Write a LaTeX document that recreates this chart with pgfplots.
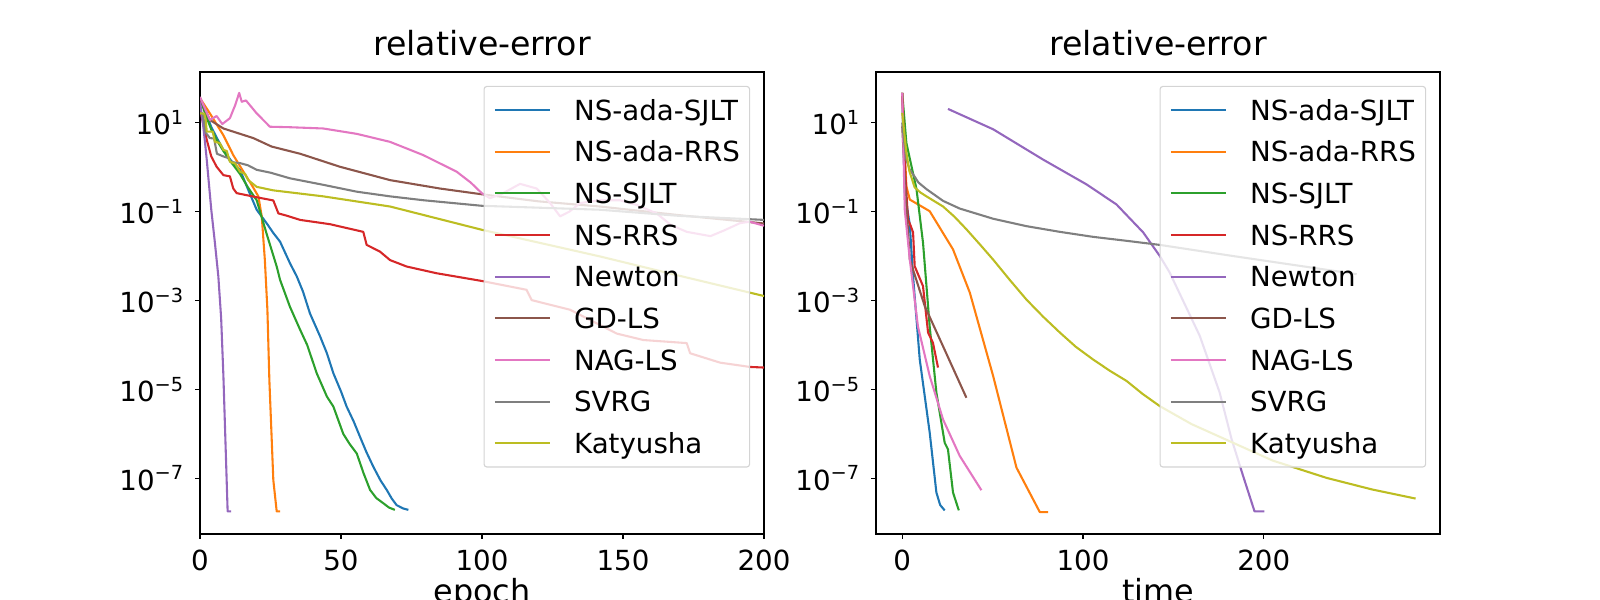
\documentclass[border=0pt]{standalone}
\usepackage{fontspec}
\setmainfont{DejaVu Sans}
\usepackage{pgfplots}
\pgfplotsset{compat=1.18}
\definecolor{C0}{HTML}{1F77B4}
\definecolor{C1}{HTML}{FF7F0E}
\definecolor{C2}{HTML}{2CA02C}
\definecolor{C3}{HTML}{D62728}
\definecolor{C4}{HTML}{9467BD}
\definecolor{C5}{HTML}{8C564B}
\definecolor{C6}{HTML}{E377C2}
\definecolor{C7}{HTML}{7F7F7F}
\definecolor{C8}{HTML}{BCBD22}
\pgfplotsset{
  legend image code/.code={\draw[#1, line width=1.5bp] (0bp,0bp)--(40bp,0bp);},
  every axis plot/.append style={line width=1.5bp, line join=round},
  every axis x label/.style={at={(axis description cs:0.5,0)}, anchor=base, yshift=-49bp, inner sep=0pt},
}
\begin{document}
\begin{tikzpicture}
\pgfplotsset{
  every axis/.append style={
  scale only axis, width=406.08bp, height=332.64bp, anchor=south west,
  ymin=5.585e-9, ymax=138,
  axis line style={line width=0.8bp},
  tick style={line width=0.8bp, black},
  tick align=outside, major tick length=3.5bp,
  xtick pos=bottom, ytick pos=left,
  ytick={1e1,1e-1,1e-3,1e-5,1e-7},
  yticklabels={10\textsuperscript{1},10\textsuperscript{−1},10\textsuperscript{−3},10\textsuperscript{−5},10\textsuperscript{−7}},
  yminorticks=false,
  ticklabel style={font=\fontsize{20}{24}\selectfont, inner sep=0pt},
  yticklabel style={anchor=east, xshift=-7.9bp},
  xticklabel style={anchor=north, yshift=-8bp},
  title style={at={(axis description cs:0.5,1)}, anchor=base, yshift=6.1bp, font=\fontsize{24}{28}\selectfont, inner sep=0pt},
  legend cell align=left,
  legend style={at={(1,1)}, anchor=north east, xshift=-10bp, yshift=-10bp,
    draw=black!17, line width=0.8bp, rounded corners=2bp, fill=white, fill opacity=0.8, text opacity=1,
    inner xsep=7bp, inner ysep=7bp, row sep=10bp, column sep=16.3bp,
    font=\fontsize{20}{24}\selectfont,
    nodes={inner sep=0pt, text height=17.3bp, text depth=2.7bp}},
  }
}
% ---------------- left panel: epoch ----------------
\begin{semilogyaxis}[at={(144bp,47.52bp)}, xmin=0, xmax=200,
  xtick={0,50,100,150,200}, xticklabels={0,50,100,150,200},
  title={relative-error}, xlabel={\fontsize{23}{27}\selectfont epoch}]
\addplot[C0, no markers] coordinates {(0,35.5) (2,17) (4,8) (6,4.5) (8.3,2.45) (11,1.4) (14.2,0.87) (17,0.32) (20.1,0.11) (23.6,0.055) (26,0.033) (28.4,0.021) (31.9,6.9e-3) (34.3,3.5e-3) (36.5,1.6e-3) (39,5.1e-4) (42.6,1.55e-4) (45,6.5e-5) (47.3,2.3e-5) (50,9e-6) (52,4.1e-6) (54.5,1.9e-6) (56.7,8.7e-7) (59,3.9e-7) (61.5,1.8e-7) (64,9e-8) (66.2,5.5e-8) (68,3.5e-8) (69.7,2.5e-8) (72,2.1e-8) (73.9,1.95e-8)};
\addlegendentry{NS-ada-SJLT}
\addplot[C1, no markers] coordinates {(0,35.5) (3.5,16.2) (8.3,5.2) (11.8,1.86) (15.4,0.79) (18.3,0.4) (20.7,0.22) (21.9,0.078) (23,8.1e-3) (23.9,6.2e-4) (24.6,1.6e-5) (26,9.1e-8) (27.2,1.8e-8) (28.4,1.8e-8)};
\addlegendentry{NS-ada-RRS}
\addplot[C2, no markers] coordinates {(0,35.5) (2,15) (4,7) (6,4) (8.3,2.3) (11,1.3) (14.2,0.7) (17,0.35) (20.1,0.18) (23.6,0.032) (27.2,5.8e-3) (28.4,2.9e-3) (31.9,7.2e-4) (35.5,2.2e-4) (38,1e-4) (41.4,2.3e-5) (45,6.9e-6) (47.3,4.1e-6) (50.8,1.0e-6) (53,6e-7) (55.6,3.6e-7) (58,1.3e-7) (60.3,5.5e-8) (62.5,3.6e-8) (65,2.75e-8) (67,2.2e-8) (69.1,1.95e-8)};
\addlegendentry{NS-SJLT}
\addplot[C3, no markers] coordinates {(0,20) (2.4,4.1) (4,1.74) (5.9,1.02) (8.3,0.66) (10.6,0.62) (11.8,0.33) (13,0.26) (20.1,0.21) (26,0.178) (27.8,0.091) (30.7,0.081) (35.5,0.065) (46.1,0.052) (57.9,0.035) (59.1,0.0178) (63.8,0.0126) (67.4,8.1e-3) (73.3,5.8e-3) (83.9,4.1e-3) (99.9,2.75e-3) (115.8,1.74e-3) (117.6,1.02e-3) (131.2,6.2e-4) (147.8,1.8e-4) (157.2,1.29e-4) (172.6,1.1e-4) (173.8,6.5e-5) (184.4,4e-5) (195,3.2e-5) (200,3.1e-5)};
\addlegendentry{NS-RRS}
\addplot[C4, no markers] coordinates {(0,30) (0.6,15.8) (1.2,7.9) (1.8,3.47) (2.4,1.45) (3.2,0.4) (4,0.11) (5.3,0.0195) (6.5,3.5e-3) (7.5,4e-4) (8.3,2e-5) (9.8,1.8e-8) (11,1.8e-8)};
\addlegendentry{Newton}
\addplot[C5, no markers] coordinates {(0,35.5) (3.5,11.5) (8.3,7.4) (18.9,4.5) (25.4,2.9) (35.5,2.0) (49.6,1.02) (67.4,0.51) (85.1,0.33) (99.9,0.245) (120,0.17) (141.8,0.13) (170,0.083) (200,0.054)};
\addlegendentry{GD-LS}
\addplot[C6, no markers] coordinates {(0,38) (3.5,11.5) (5.9,14.1) (7.9,9.3) (10.6,12.6) (12.5,25) (13.9,46.8) (14.8,29.5) (16.3,31.6) (20.1,16.2) (24.8,8.1) (31.9,7.9) (43.7,7.4) (55.6,5.6) (67.4,3.7) (79.2,1.86) (91,0.79) (96,0.45) (99.9,0.26) (102.8,0.2) (107,0.25) (113.5,0.42) (119.4,0.33) (124,0.16) (127.7,0.078) (131,0.1) (134.8,0.155) (141.8,0.18) (148.9,0.18) (155,0.14) (161.9,0.091) (167,0.05) (172.6,0.035) (181,0.028) (186,0.038) (191.5,0.055) (195,0.059) (200,0.048)};
\addlegendentry{NAG-LS}
\addplot[C7, no markers] coordinates {(0,16.2) (1,16) (2,6) (3.5,4.5) (5,4.4) (6,2) (8.3,1.74) (10,1.6) (11,1.3) (14.2,1.23) (17,1.1) (20.1,0.87) (25,0.75) (31.9,0.56) (43.7,0.40) (55.6,0.28) (67.4,0.22) (79.2,0.18) (99.9,0.135) (141.8,0.11) (170,0.08) (200,0.065)};
\addlegendentry{SVRG}
\addplot[C8, no markers] coordinates {(0,16.2) (1.5,16) (2,12) (2.4,6.3) (4.5,6.3) (5.3,3.7) (7,3.5) (8.3,2.45) (9.5,2.3) (10.6,1.32) (12.5,1.2) (14.2,0.79) (16,0.7) (17.1,0.51) (20.1,0.36) (26,0.30) (43.7,0.22) (67.4,0.13) (99.9,0.039) (141.8,9.8e-3) (170,3.6e-3) (200,1.26e-3)};
\addlegendentry{Katyusha}
\end{semilogyaxis}
% ---------------- right panel: time ----------------
\begin{semilogyaxis}[at={(630.72bp,47.52bp)}, xmin=-14.5, xmax=297.5,
  xtick={0,100,200}, xticklabels={0,100,200},
  title={relative-error}, xlabel={\fontsize{23}{27}\selectfont time}]
\addplot[C0, no markers] coordinates {(0,46.8) (1.4,0.27) (4.2,0.05) (6,3.5e-3) (9.7,4.7e-5) (15.2,1.07e-6) (18.9,4.8e-8) (21,2.5e-8) (23.5,1.9e-8)};
\addlegendentry{NS-ada-SJLT}
\addplot[C1, no markers] coordinates {(0,46.8) (2.3,0.37) (4.2,0.186) (15.2,0.102) (28.1,0.0141) (37.4,1.5e-3) (50.3,2e-5) (63.2,1.74e-7) (76.1,1.74e-8) (80.7,1.74e-8)};
\addlegendentry{NS-ada-RRS}
\addplot[C2, no markers] coordinates {(0,46.8) (2.3,3.5) (7.9,0.32) (11.5,0.02) (15.2,2.6e-4) (18.9,8.5e-6) (23.5,6.3e-7) (25.3,4.5e-7) (28.1,4.8e-8) (31.3,1.9e-8)};
\addlegendentry{NS-SJLT}
\addplot[C3, no markers] coordinates {(0,46.8) (1.5,1.0) (3.2,0.066) (4.5,0.05) (6,0.034) (6.9,5.9e-3) (11.5,2.1e-3) (14.3,1.9e-4) (17,1.12e-4) (19.8,3.1e-5)};
\addlegendentry{NS-RRS}
\addplot[C4, no markers] coordinates {(25.3,20.4) (50.3,7.1) (77.9,1.48) (101.9,0.41) (118.5,0.145) (133.3,0.034) (142.5,0.01) (147.9,4.3e-3) (164.6,1.6e-4) (175.6,8.5e-6) (182.2,7.6e-7) (188.6,1.12e-7) (194.9,1.8e-8) (200.3,1.8e-8)};
\addlegendentry{Newton}
\addplot[C5, no markers] coordinates {(0,8.3) (1.5,0.5) (4.2,8.3e-3) (12.5,7.4e-4) (22.6,9.3e-5) (35.5,6.5e-6)};
\addlegendentry{GD-LS}
\addplot[C6, no markers] coordinates {(0,46.8) (1.4,0.11) (4.2,8.3e-3) (8.7,2.6e-4) (15.2,2e-5) (22.6,2.1e-6) (31.8,3.2e-7) (43.8,5.4e-8)};
\addlegendentry{NAG-LS}
\addplot[C7, no markers] coordinates {(0,10) (1,4) (2.3,1.48) (4,0.9) (6,0.69) (9,0.45) (13.4,0.32) (22.6,0.174) (31.8,0.117) (50.3,0.069) (68.7,0.047) (87.2,0.035) (105.6,0.027) (124.1,0.022) (142.5,0.0178) (183,0.01) (251.4,3.9e-3)};
\addlegendentry{SVRG}
\addplot[C8, no markers] coordinates {(0,16.6) (2.3,2.1) (4,0.8) (6.9,0.35) (10,0.27) (13.4,0.22) (22.6,0.13) (29,0.0759) (35.5,0.04) (43,0.0182) (50.3,8.3e-3) (59.5,2.9e-3) (68.7,1.05e-3) (78,4.3e-4) (87.2,1.9e-4) (96,9.1e-5) (105.6,4.7e-5) (115,2.6e-5) (124.1,1.55e-5) (133,7.9e-6) (142.5,4.2e-6) (160,1.66e-6) (183,6.3e-7) (205,2.5e-7) (234.8,1.02e-7) (260,5.6e-8) (284,3.5e-8)};
\addlegendentry{Katyusha}
\end{semilogyaxis}
\pgfresetboundingbox
\useasboundingbox (0,0) rectangle (1152bp,432bp);
\end{tikzpicture}
\end{document}
